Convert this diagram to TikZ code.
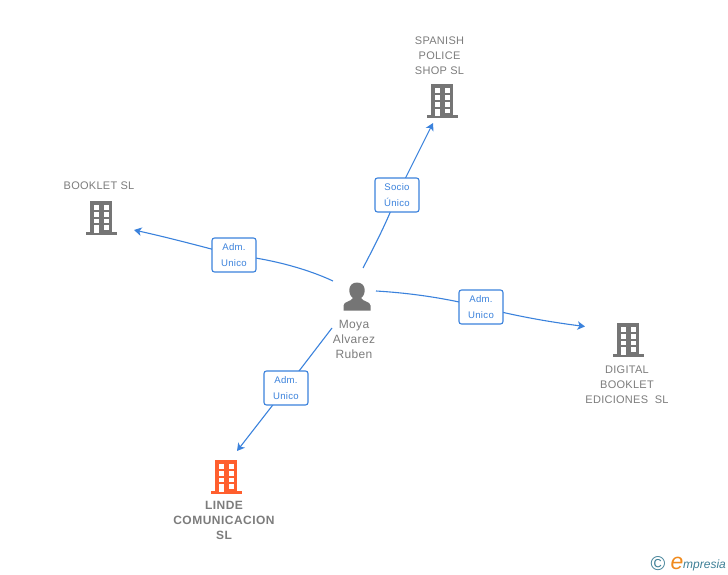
\documentclass[tikz,border=0pt]{standalone}
\usepackage{fontspec}
\setmainfont{Liberation Sans}
\usetikzlibrary{arrows.meta,backgrounds}

\definecolor{linkblue}{HTML}{3B82DC}
\definecolor{iconcol}{HTML}{757575}
\definecolor{textcol}{HTML}{7C7C7C}
\definecolor{lindecol}{HTML}{FF5F2E}
\definecolor{logoteal}{HTML}{3E7F96}
\definecolor{logoorange}{HTML}{F08A1D}

\tikzset{
  link/.style={linkblue,line width=1.1pt},
  linkend/.style={link,-{Stealth[length=7.5pt,width=8.5pt,inset=2pt]}},
  rolebox/.style={draw=linkblue,line width=1.1pt,rounded corners=2.5pt,fill=white,text=linkblue,
    minimum width=44pt,minimum height=34pt,inner sep=0pt,align=center,
    font=\fontsize{9.6}{15.5}\selectfont\addfontfeatures{LetterSpace=3}},
  firm/.style={text=textcol,align=center,font=\fontsize{11}{15}\selectfont\addfontfeatures{LetterSpace=2.5}},
  firmbold/.style={text=textcol,align=center,font=\fontsize{12}{15}\selectfont\bfseries\addfontfeatures{LetterSpace=4}},
  person/.style={text=textcol,align=center,font=\fontsize{12}{15}\selectfont\addfontfeatures{LetterSpace=3}},
  building/.pic={
    \fill[pic actions] (-11,-16) rectangle (11,16);
    \fill[pic actions] (-15.5,15) rectangle (15.5,18);
    \foreach \yy in {-12,-5,1.7,8.3} {
      \fill[white] (-7,\yy) rectangle ++(4.6,4.6);
      \fill[white] (2.7,\yy) rectangle ++(4.8,4.6);
    }
    \fill[white] (-7,13) rectangle (-2.4,16);
  },
  personicon/.pic={
    \fill[pic actions] (-13.5,14) -- (-13.5,9) .. controls (-13.5,5) and (-5.5,5) .. (-4,1.5)
      .. controls (-9.5,-2) and (-9.5,-14) .. (0,-14) .. controls (9.5,-14) and (9.5,-2) .. (4,1.5)
      .. controls (5.5,5) and (13.5,5) .. (13.5,9) -- (13.5,14) -- cycle;
  },
}

\begin{document}
\begin{tikzpicture}[x=1pt,y=-1pt]
\useasboundingbox (0,0) rectangle (728,575);

% Buildings
\pic[iconcol] at (442,100.5) {building};
\pic[iconcol] at (101,217) {building};
\pic[iconcol] at (628,339) {building};
\pic[lindecol] at (226,476) {building};
\pic[iconcol] at (357,296.5) {personicon};

% Names
\node[firm] (spanish) at (439.5,56) {SPANISH\\POLICE\\SHOP SL};
\node[firm] (booklet) at (99,186) {BOOKLET SL};
\node[firm] (digital) at (627,385) {DIGITAL\\BOOKLET\\EDICIONES\ \ SL};
\node[firmbold] (linde) at (224,520.5) {LINDE\\COMUNICACION\\SL};
\node[person] (moya) at (354,339.5) {Moya\\Alvarez\\Ruben};

% Roles
\node[rolebox] (socio) at (397,195) {Socio\\Único};
\node[rolebox] (admbooklet) at (234,255) {Adm.\\Unico};
\node[rolebox] (admdigital) at (481,307) {Adm.\\Unico};
\node[rolebox] (admlinde) at (286,388) {Adm.\\Unico};

% Free ends
\coordinate (fromsocio) at (363,268);
\coordinate (tospanish) at (433,123);
\coordinate (frombooklet) at (333,281);
\coordinate (tobooklet) at (134,230);
\coordinate (fromdigital) at (376,291);
\coordinate (todigital) at (585,326.5);
\coordinate (fromlinde) at (332,328);
\coordinate (tolinde) at (237,451);

% Connectors
\begin{scope}[on background layer]
\draw[link] (fromsocio) .. controls (375,245) and (388,220) .. (socio.center);
\draw[linkend] (socio.center) -- (tospanish);
\draw[link] (frombooklet) .. controls (305,268) and (270,259) .. (admbooklet.center);
\draw[linkend] (admbooklet.center) .. controls (200,246) and (170,238) .. (tobooklet);
\draw[link] (fromdigital) .. controls (410,293) and (445,298) .. (admdigital.center);
\draw[linkend] (admdigital.center) .. controls (515,316) and (550,322) .. (todigital);
\draw[link] (fromlinde) -- (admlinde.center);
\draw[linkend] (admlinde.center) -- (tolinde);
\end{scope}

% Logo
\node[text=logoteal,inner sep=0pt,font=\fontsize{20}{20}\selectfont] (copyr) at (658,564) {©};
\node[text=logoorange,inner sep=0pt,font=\fontsize{23}{23}\selectfont\itshape] (logoe) at (677,563) {e};
\node[text=logoteal,inner sep=0pt,anchor=west,font=\fontsize{12}{12}\selectfont\itshape] (logotext) at (683,565) {mpresia};
\end{tikzpicture}
\end{document}
